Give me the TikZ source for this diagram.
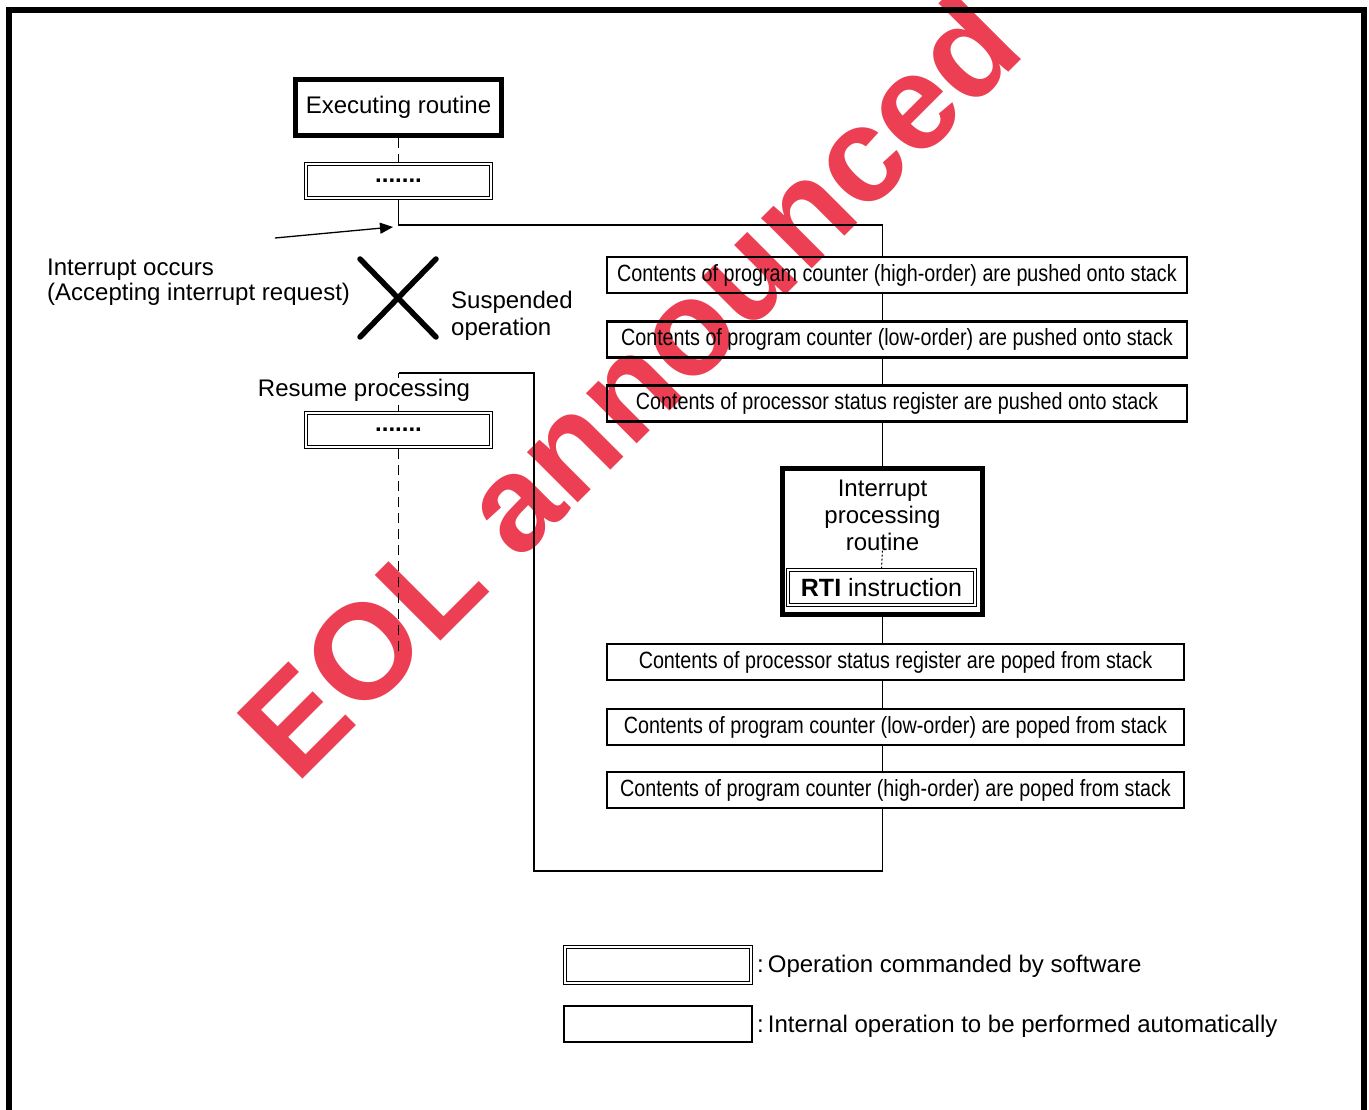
\documentclass[tikz,border=0pt]{standalone}
\usepackage{fontspec}
\setmainfont{Liberation Sans}
\newfontfamily\narrowfont[FakeStretch=0.84]{Liberation Sans}
\usetikzlibrary{arrows.meta}
\definecolor{wm}{RGB}{232,16,40}
\begin{document}
\begin{tikzpicture}[x=1pt,y=-1pt,
  every node/.style={font=\fontsize{24}{26}\selectfont},
  conn/.style={line width=1.3pt},
  dashconn/.style={line width=1.3pt, dash pattern=on 10pt off 6pt},
  heavybox/.style={draw, line width=5pt, inner sep=0pt},
  autobox/.style={draw, line width=2.5pt, inner sep=0pt, font=\narrowfont\fontsize{23.5}{26}\selectfont},
  softbox/.style={draw, line width=1pt, inner sep=0pt},
  innerline/.style={line width=1.8pt},
  txt/.style={inner sep=0pt}
]
\useasboundingbox (0,0) rectangle (1369,1110);
\fill[white] (0,0) rectangle (1369,1110);

% watermark (under the drawing)
\node[rotate=45, text=wm, opacity=0.8, inner sep=0pt, font=\fontsize{135}{135}\selectfont\bfseries] (wmark) at (628,385) {EOL announced};

% frame
\draw[line width=6pt] (8.5,1115) -- (8.5,10.5) -- (1364,10.5) -- (1364,1115);

% left column
\node[heavybox, minimum width=206, minimum height=56] (exec) at (398.5,107.5) {Executing routine};
\node[softbox, minimum width=188, minimum height=37] (dotsA) at (398.5,181) {\raisebox{-3pt}{\textbf{.......}}};
\node[softbox, minimum width=188, minimum height=37] (dotsB) at (398.5,430) {\raisebox{-3pt}{\textbf{.......}}};

% right column
\node[autobox, minimum width=580, minimum height=36] (push1) at (897,275) {Contents of program counter (high-order) are pushed onto stack};
\node[autobox, minimum width=580, minimum height=36] (push2) at (897,339.5) {Contents of program counter (low-order) are pushed onto stack};
\node[autobox, minimum width=580, minimum height=36] (push3) at (897,403.5) {Contents of processor status register are pushed onto stack};

\node[heavybox, minimum width=200, minimum height=146] (ipr) at (882.5,541.5) {};
\node[txt, align=center, font=\fontsize{24}{27}\selectfont] (iprtext) at (882.5,515) {Interrupt\\processing\\routine};
\node[softbox, minimum width=190, minimum height=38, font=\fontsize{25}{27}\selectfont] (rti) at (881.5,587.5) {\textbf{RTI} instruction};

\node[autobox, minimum width=577, minimum height=36] (pop1) at (895.5,662) {Contents of processor status register are poped from stack};
\node[autobox, minimum width=577, minimum height=36] (pop2) at (895.5,727) {Contents of program counter (low-order) are poped from stack};
\node[autobox, minimum width=577, minimum height=36] (pop3) at (895.5,790) {Contents of program counter (high-order) are poped from stack};

% legend
\node[softbox, minimum width=189, minimum height=39] (legsoft) at (658,965) {};
\node[txt, anchor=west] (legsofttxt) at (757,966) {:\,Operation commanded by software};
\node[autobox, minimum width=188, minimum height=36] (legauto) at (658,1024) {};
\node[txt, anchor=west] (legautotxt) at (757,1026) {:\,Internal operation to be performed automatically};

% inner lines of the software boxes
\foreach \n in {dotsA,dotsB,rti,legsoft}
  \draw[innerline] ([shift={(3.5,3.5)}]\n.north west) rectangle ([shift={(-3.5,-3.5)}]\n.south east);

% coordinates
\coordinate (split) at (882.5,225);
\coordinate (irqfrom) at (275,238);
\coordinate (irqto) at (393,227);
\coordinate (retA) at (882.5,871);
\coordinate (retB) at (534,871);
\coordinate (retC) at (534,373);
\coordinate (retD) at (398.5,373);
\coordinate (dashend) at (398.5,656);

% connectors
\draw[dashconn] (exec.south) -- (dotsA.north);
\draw[conn] (dotsA.south) |- (split) -- (split |- push1.north);
\draw[conn] (push1.south -| split) -- (push2.north -| split);
\draw[conn] (push2.south -| split) -- (push3.north -| split);
\draw[conn] (push3.south -| split) -- (ipr.north);
\draw[line width=1pt, dash pattern=on 2pt off 2pt] (iprtext.south) -- (rti.north);
\draw[conn] (ipr.south) -- (pop1.north -| ipr.south);
\draw[conn] (pop1.south -| ipr.south) -- (pop2.north -| ipr.south);
\draw[conn] (pop2.south -| ipr.south) -- (pop3.north -| ipr.south);
\draw[conn] (pop3.south -| ipr.south) -- (retA) -- (retB) -- (retC) -- (retD);
\draw[dashconn] (retD) -- (dotsB.north);
\draw[dashconn] (dotsB.south) -- (dashend);
\draw[conn, -{Triangle[length=13pt,width=11pt]}] (irqfrom) -- (irqto);

% texts
\node[txt, anchor=west, align=left, font=\fontsize{24}{24.5}\selectfont] (irqtxt) at (47,282) {Interrupt occurs\\(Accepting interrupt request)};
\node[txt, anchor=west, align=left, font=\fontsize{24}{27}\selectfont] (susp) at (451,316) {Suspended\\operation};
\node[txt, fill=white, inner sep=1pt] (resume) at (364,390) {Resume processing};

% suspended mark
\draw[line width=5.5pt, line cap=round] (360,259) -- (436,337) (436,259) -- (360,337);
\end{tikzpicture}
\end{document}
